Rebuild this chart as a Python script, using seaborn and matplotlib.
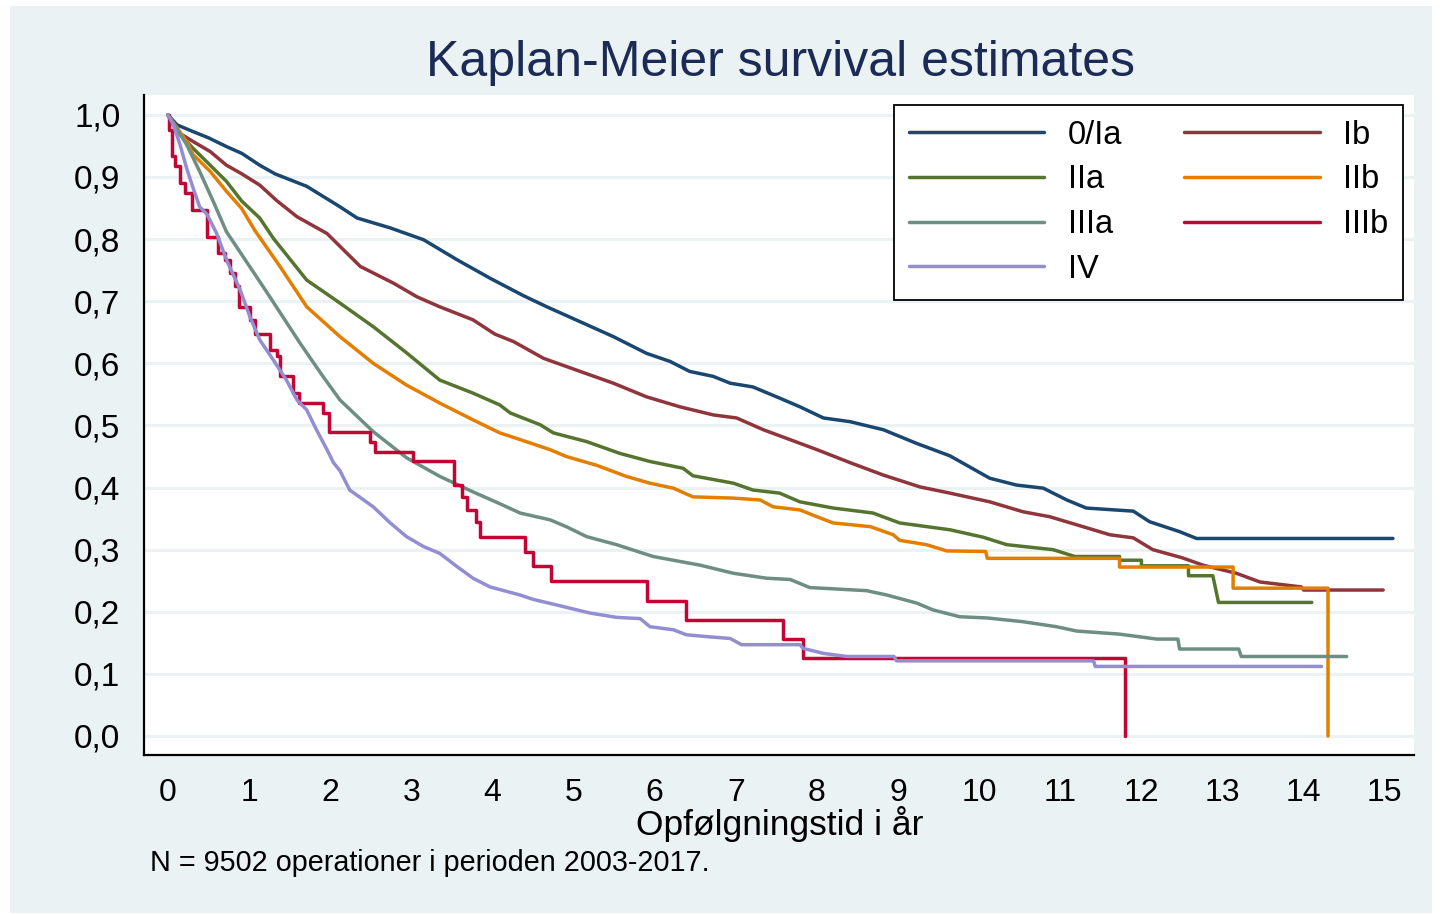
import numpy as np
import pandas as pd
import seaborn as sns
import matplotlib.pyplot as plt
from matplotlib.patches import Rectangle

# Stage groups and Stata s2color line colours
stages = ['0/Ia', 'Ib', 'IIa', 'IIb', 'IIIa', 'IIIb', 'IV']
colors = ['#1a476f', '#90353b', '#55752f', '#e37e00', '#6e8e84', '#c10534', '#938dd2']

# Survival curves (years, survival)
t_0ia = [0, 0.11, 0.31, 0.5, 0.72, 0.91, 1.13, 1.32, 1.71, 2.12, 2.33, 2.74, 3.15, 3.56, 3.97,
         4.38, 4.67, 5.08, 5.49, 5.90, 6.19, 6.43, 6.72, 6.93, 7.21, 7.54, 7.79, 8.08, 8.41, 8.82,
         9.23, 9.64, 10.13, 10.46, 10.79, 11.08, 11.32, 11.9, 12.1, 12.47, 12.68, 15.1]
s_0ia = [1.0, 0.984, 0.973, 0.963, 0.949, 0.938, 0.919, 0.905, 0.885, 0.852, 0.834, 0.818, 0.799, 0.767, 0.737,
         0.709, 0.691, 0.667, 0.643, 0.616, 0.603, 0.587, 0.579, 0.568, 0.562, 0.544, 0.530, 0.512, 0.506, 0.493,
         0.471, 0.451, 0.415, 0.404, 0.399, 0.380, 0.367, 0.362, 0.345, 0.329, 0.318, 0.318]

t_ib = [0, 0.11, 0.31, 0.52, 0.72, 0.91, 1.13, 1.34, 1.59, 1.96, 2.37, 2.78, 3.07, 3.35, 3.76, 4.03,
        4.26, 4.63, 5.08, 5.49, 5.90, 6.31, 6.72, 7.01, 7.34, 7.63, 8.0, 8.41, 8.82, 9.27, 9.64, 10.13,
        10.54, 10.87, 11.28, 11.61, 11.9, 12.14, 12.5, 12.76, 13.17, 13.46, 13.97, 14.0, 14.98]
s_ib = [1.0, 0.973, 0.957, 0.941, 0.919, 0.905, 0.887, 0.862, 0.836, 0.809, 0.756, 0.729, 0.707, 0.691, 0.670, 0.647,
        0.635, 0.608, 0.587, 0.568, 0.546, 0.530, 0.517, 0.512, 0.493, 0.479, 0.461, 0.440, 0.420, 0.401, 0.391, 0.377,
        0.361, 0.353, 0.337, 0.324, 0.319, 0.300, 0.287, 0.275, 0.262, 0.248, 0.240, 0.235, 0.235]

t_iia = [0, 0.15, 0.31, 0.52, 0.72, 0.91, 1.13, 1.30, 1.71, 2.12, 2.53, 2.94, 3.35, 3.76, 4.09, 4.22,
         4.59, 4.75, 5.16, 5.57, 5.94, 6.35, 6.47, 6.97, 7.21, 7.54, 7.79, 8.2, 8.69, 9.02, 9.64, 10.05,
         10.34, 10.91, 11.18, 11.73, 11.73, 12.0, 12.0, 12.58, 12.58, 12.88, 12.95, 14.1]
s_iia = [1.0, 0.968, 0.946, 0.919, 0.893, 0.861, 0.834, 0.801, 0.734, 0.697, 0.659, 0.617, 0.573, 0.552, 0.533, 0.520,
         0.501, 0.488, 0.474, 0.455, 0.442, 0.431, 0.419, 0.407, 0.396, 0.391, 0.377, 0.367, 0.359, 0.343, 0.332, 0.320,
         0.308, 0.300, 0.289, 0.289, 0.283, 0.283, 0.274, 0.274, 0.258, 0.258, 0.215, 0.215]

t_iib = [0, 0.23, 0.31, 0.52, 0.72, 0.91, 1.07, 1.38, 1.71, 2.12, 2.53, 2.94, 3.35, 3.76, 4.09, 4.3,
         4.71, 4.91, 5.28, 5.65, 5.94, 6.23, 6.47, 6.97, 7.3, 7.46, 7.79, 8.0, 8.2, 8.66, 8.94, 9.02,
         9.35, 9.6, 10.08, 10.1, 11.73, 11.73, 13.13, 13.13, 14.3, 14.3]
s_iib = [1.0, 0.957, 0.936, 0.909, 0.877, 0.849, 0.814, 0.756, 0.691, 0.643, 0.600, 0.565, 0.536, 0.509, 0.488, 0.479,
         0.461, 0.450, 0.436, 0.418, 0.407, 0.399, 0.385, 0.383, 0.380, 0.369, 0.364, 0.353, 0.343, 0.337, 0.324, 0.315,
         0.308, 0.298, 0.297, 0.286, 0.286, 0.272, 0.272, 0.238, 0.238, 0.0]

t_iiia = [0, 0.23, 0.39, 0.56, 0.72, 1.20, 1.63, 1.91, 2.12, 2.53, 2.94, 3.35, 3.76, 4.09, 4.34, 4.71,
          4.91, 5.16, 5.53, 5.98, 6.56, 6.97, 7.38, 7.67, 7.91, 8.61, 8.86, 9.23, 9.43, 9.76, 10.1, 10.54,
          10.95, 11.2, 11.73, 12.19, 12.45, 12.47, 13.2, 13.23, 14.53]
s_iiia = [1.0, 0.952, 0.909, 0.860, 0.812, 0.718, 0.632, 0.579, 0.541, 0.490, 0.448, 0.418, 0.393, 0.374, 0.359, 0.348,
          0.337, 0.321, 0.308, 0.289, 0.275, 0.262, 0.254, 0.252, 0.239, 0.234, 0.227, 0.214, 0.203, 0.192, 0.190, 0.184,
          0.176, 0.169, 0.164, 0.156, 0.156, 0.140, 0.140, 0.128, 0.128]

# IIIb has few patients: plain steps (time of drop, new value)
t_iiib = [0, 0.01, 0.045, 0.086, 0.148, 0.21, 0.29, 0.477, 0.62, 0.70, 0.76, 0.83, 0.87, 1.01, 1.07, 1.26,
          1.34, 1.38, 1.54, 1.61, 1.91, 1.98, 2.49, 2.55, 3.02, 3.52, 3.62, 3.68, 3.80, 3.85, 4.40, 4.50,
          4.72, 5.90, 6.38, 7.58, 7.83, 11.8, 11.8]
s_iiib = [1.0, 0.976, 0.933, 0.917, 0.890, 0.874, 0.847, 0.804, 0.777, 0.767, 0.745, 0.724, 0.691, 0.670, 0.648, 0.622,
          0.611, 0.579, 0.552, 0.536, 0.520, 0.490, 0.474, 0.458, 0.442, 0.404, 0.385, 0.364, 0.345, 0.321, 0.297, 0.274,
          0.249, 0.218, 0.187, 0.156, 0.125, 0.125, 0.0]

t_iv = [0, 0.066, 0.148, 0.23, 0.31, 0.39, 0.48, 0.60, 0.72, 0.89, 1.01, 1.13, 1.30, 1.46, 1.59, 1.71,
        1.83, 1.96, 2.04, 2.12, 2.24, 2.53, 2.74, 2.94, 3.15, 3.35, 3.56, 3.76, 3.97, 4.34, 4.5, 4.79,
        5.2, 5.53, 5.82, 5.94, 6.23, 6.39, 6.64, 6.93, 7.07, 7.79, 7.83, 8.08, 8.37, 8.95, 8.98, 11.41,
        11.43, 14.22]
s_iv = [1.0, 0.984, 0.952, 0.914, 0.882, 0.852, 0.840, 0.809, 0.767, 0.718, 0.675, 0.638, 0.605, 0.573, 0.541, 0.525,
        0.493, 0.461, 0.440, 0.427, 0.396, 0.369, 0.343, 0.321, 0.305, 0.294, 0.273, 0.254, 0.240, 0.227, 0.220, 0.211,
        0.198, 0.191, 0.189, 0.176, 0.171, 0.163, 0.160, 0.157, 0.147, 0.147, 0.141, 0.133, 0.128, 0.128, 0.121, 0.121,
        0.112, 0.112]

curves = [(t_0ia, s_0ia), (t_ib, s_ib), (t_iia, s_iia), (t_iib, s_iib),
          (t_iiia, s_iiia), (t_iiib, s_iiib), (t_iv, s_iv)]

x_ticks = list(range(0, 16))
y_ticks = [i / 10 for i in range(0, 11)]
y_ticklabels = [f"{v:.1f}".replace('.', ',') for v in y_ticks]

title = 'Kaplan-Meier survival estimates'
xlabel = 'Opfølgningstid i år'
note = 'N = 9502 operationer i perioden 2003-2017.'

sns.set_style('white')
plt.rcParams['font.family'] = ['Liberation Sans', 'DejaVu Sans']
plt.rcParams['text.color'] = 'black'
plt.rcParams['axes.labelcolor'] = 'black'

bg = '#eaf2f3'
W, H = 1441, 914
fig = plt.figure(figsize=(W / 100, H / 100), dpi=100)
fig.patch.set_facecolor('white')
fig.patches.append(Rectangle((10 / W, 1 / H), 1422 / W, 907 / H, transform=fig.transFigure,
                             facecolor=bg, edgecolor='none', zorder=-10))

ax = fig.add_axes([144 / W, 159 / H, 1270 / W, 660 / H])
ax.set_zorder(2)
ax.set_facecolor('white')

lines = {}
for name, col, (t, s) in zip(stages, colors, curves):
    df = pd.DataFrame({'t': t, 's': s})
    kw = {'drawstyle': 'steps-post'} if name == 'IIIb' else {}
    sns.lineplot(data=df, x='t', y='s', ax=ax, color=col, linewidth=2.5,
                 sort=False, estimator=None, label=name, **kw)
    lines[name] = ax.lines[-1]

ax.set_xlim(-0.296, 15.36)
ax.set_ylim(-0.0306, 1.032)
ax.set_xticks(x_ticks)
ax.set_yticks(y_ticks)
ax.set_yticklabels(y_ticklabels)
for y in y_ticks:
    ax.axhline(y, color=bg, linewidth=2.2, zorder=0)

for side in ['top', 'right']:
    ax.spines[side].set_visible(False)
for side in ['left', 'bottom']:
    ax.spines[side].set_color('black')
    ax.spines[side].set_linewidth(1.6)

ax.tick_params(axis='y', direction='out', length=10, width=1.4, pad=7, labelsize=24, colors='black')
ax.tick_params(axis='x', direction='out', length=9.5, width=1.4, pad=7, labelsize=23, colors='black')

ax.set_xlabel(xlabel, fontsize=25.5, color='black')
ax.xaxis.set_label_coords((780 - 144) / 1270, -(824 - 755) / 660)
ax.xaxis.label.set_va('center')
ax.set_ylabel('')

fig.text(781 / W, 1 - 63 / H, title, ha='center', va='center', fontsize=36, color='#1c2b55')
fig.text(150 / W, 1 - 863 / H, note, ha='left', va='center', fontsize=20.7, color='black')

order = ['0/Ia', 'IIa', 'IIIa', 'IV', 'Ib', 'IIb', 'IIIb']
leg = ax.legend([lines[n] for n in order], order, ncol=2, loc='upper right',
                bbox_to_anchor=((1403 - 144) / 1270, (755 - 105) / 660), borderaxespad=0,
                fontsize=23.5, handlelength=4.15, handletextpad=0.72, columnspacing=1.9,
                labelspacing=0.42, borderpad=0.45, frameon=True, fancybox=False,
                framealpha=1, edgecolor='black')
leg.get_frame().set_linewidth(1.3)
for txt in leg.get_texts():
    txt.set_color('black')

fig.savefig('out.png', dpi=100, facecolor=fig.get_facecolor())
